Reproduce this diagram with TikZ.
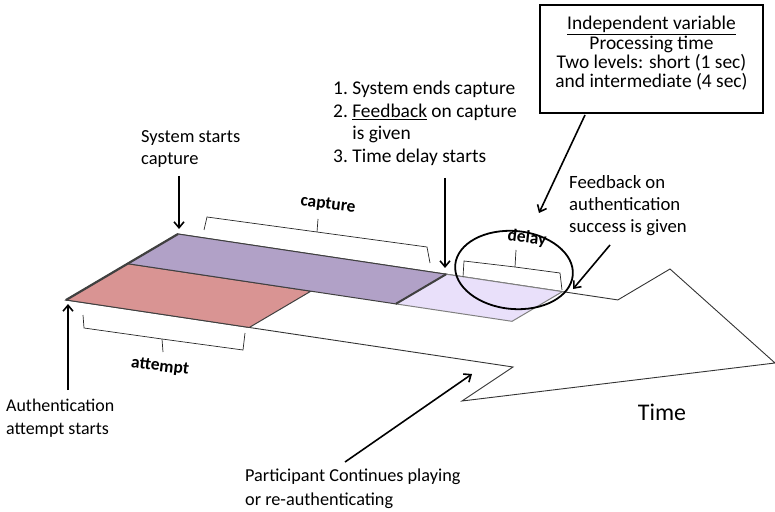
\documentclass[tikz,border=0pt]{standalone}
\usepackage{fontspec}
\setmainfont{Carlito}
\usetikzlibrary{arrows.meta, positioning, calc}
\definecolor{attemptred}{RGB}{217,148,147}
\definecolor{capturepurple}{RGB}{177,161,199}
\definecolor{delaylilac}{RGB}{233,224,250}
\definecolor{edgegray}{RGB}{64,64,64}

\begin{document}
\begin{tikzpicture}[x=1bp, y=-1bp,
  txt/.style={font=\fontsize{18.5}{22.5}\selectfont, align=left, inner sep=0pt, anchor=north west},
  seglabel/.style={font=\bfseries\fontsize{17.5}{20}\selectfont, inner sep=0pt, rotate=-7},
  pointer/.style={-{Straight Barb[length=6pt,width=10pt]}, line width=1.6pt},
  bracket/.style={line width=0.7pt, black!85},
  slab/.style={draw=edgegray, line width=1pt}]
  \useasboundingbox (0,0) rectangle (775,512);
  % corners of the time arrow
  \coordinate (A) at (66,300);
  \coordinate (B) at (178,234);
  \coordinate (M) at ($(A)!0.55!(B)$);
  \coordinate (d) at (447,67);
  \coordinate (P) at ($(A)+(d)$);
  \coordinate (Q) at ($(B)+0.984*(d)$);
  % outline of the arrow
  \draw[black!80, line width=0.9pt] (A) -- (B) -- (Q) -- (670,269) -- (775,363) -- (462,401) -- (P) -- cycle;
  % attempt, capture and delay blocks
  \filldraw[slab, fill=attemptred] (A) -- (M) -- ($(M)+0.41*(d)$) -- ($(A)+0.41*(d)$) -- cycle;
  \filldraw[slab, fill=capturepurple] (M) -- (B) -- ($(B)+0.6*(d)$) -- ($(M)+0.6*(d)$) -- cycle;
  \filldraw[slab, draw=gray, fill=delaylilac] ($(B)+0.6*(d)$) -- ($(B)+0.86*(d)$) -- ($(M)+0.86*(d)$) -- ($(M)+0.6*(d)$) -- cycle;
  \draw[edgegray, line width=2pt] ($(B)+0.6*(d)$) -- ($(M)+0.6*(d)$);
  \draw[edgegray, line width=2.2pt] (A) -- (B);
  % brackets
  \draw[bracket] (204,230) -- (207,217) -- (317,232) -- (427,247) -- (430,263);
  \draw[bracket] (317,232) -- (318,219);
  \draw[bracket] (463,277) -- (464,261) -- (515,267) -- (560,273) -- (562,290);
  \draw[bracket] (515,267) -- (516,250);
  \draw[bracket] (83,315) -- (84,328) -- (162,339) -- (243,350) -- (245,333);
  \draw[bracket] (162,339) -- (163,352);
  \node[seglabel] (caplbl) at (328,205) {capture};
  \node[seglabel] (delaylbl) at (527,238) {delay};
  \node[seglabel] (attlbl) at (160,367) {attempt};
  % circle round the delay
  \draw[line width=1.8pt, rotate around={-5:(514,270)}] (514,270) ellipse [x radius=59, y radius=39];
  % texts
  \node[txt] (capstart) at (141,130) {System starts\\capture};
  \node[txt, font=\fontsize{19.5}{22.7}\selectfont] (capend) at (333,81)
    {1.\ System ends capture\\2.\ \underline{Feedback} on capture\\\phantom{2.\ }is given\\3.\ Time delay starts};
  \node[draw, line width=1.8pt, minimum width=223bp, minimum height=108bp, inner sep=0pt] (ivbox) at (651.5,59) {};
  \node[align=center, inner sep=0pt, anchor=north, font=\fontsize{19.5}{19.5}\selectfont] (ivtext) at (651.5,16)
    {\underline{Independent variable}\\Processing time\\Two levels: short (1 sec)\\and intermediate (4 sec)};
  \node[txt, font=\fontsize{18.8}{22}\selectfont] (fbauth) at (569,175) {Feedback on\\authentication\\success is given};
  \node[txt, font=\fontsize{18}{23}\selectfont] (attstart) at (6,399) {Authentication\\attempt starts};
  \node[txt, font=\fontsize{18.3}{24}\selectfont] (cont) at (245,469) {Participant Continues playing\\or re-authenticating};
  \node[font=\fontsize{24}{26}\selectfont, inner sep=0pt] (timelbl) at (662,412) {Time};
  % pointers
  \coordinate (capS) at (179,176); \coordinate (capE) at (179,229);
  \coordinate (endS) at (445,178); \coordinate (endE) at (445,268);
  \coordinate (ivS) at (585,115); \coordinate (ivE) at (539,213);
  \coordinate (fbS) at (610,245); \coordinate (fbE) at (573,289);
  \coordinate (atS) at (68,390); \coordinate (atE) at (68,304);
  \coordinate (coS) at (345,462); \coordinate (coE) at (472,374);
  \foreach \s/\e in {capS/capE, endS/endE, ivS/ivE, fbS/fbE, atS/atE, coS/coE}
    \draw[pointer] (\s) -- (\e);
\end{tikzpicture}
\end{document}
